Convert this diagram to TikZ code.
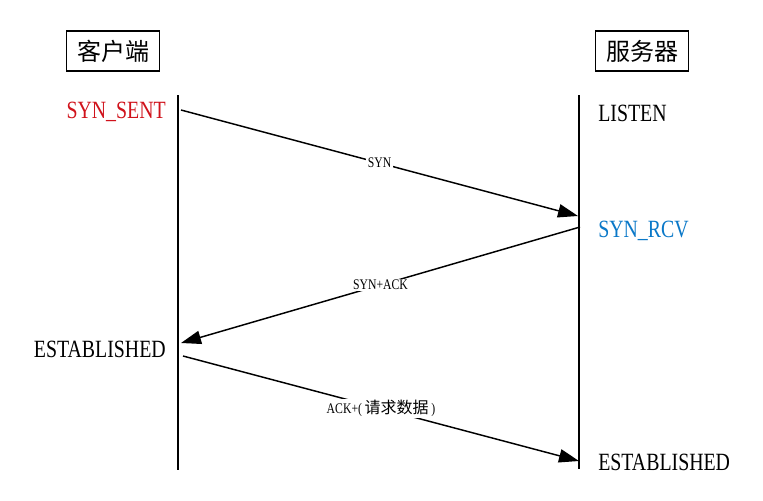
\documentclass[tikz,border=0pt]{standalone}
\usepackage{fontspec}
\setmainfont{Liberation Serif}[FakeStretch=0.8]
\newfontfamily\cjk{Noto Sans CJK SC}
\usetikzlibrary{arrows.meta}
\definecolor{synred}{HTML}{D0121B}
\definecolor{synblue}{HTML}{0A78C8}
\tikzset{
  party/.style={
    draw=black,
    line width=1.1pt,
    minimum width=70pt,
    minimum height=30pt,
    inner sep=2pt,
    font=\cjk\fontsize{18}{20}\selectfont
  },
  state/.style={
    inner sep=0pt,
    font=\fontsize{18.6}{21}\selectfont
  },
  lifeline/.style={line width=1.1pt, draw=black},
  msg/.style={-{Triangle[length=15pt, width=10pt]}, line width=1.1pt, draw=black},
  msglabel/.style={fill=white, inner sep=1pt, font=\fontsize{11}{12}\selectfont}
}
\begin{document}
\begin{tikzpicture}[x=0.75pt,y=-0.75pt]
\useasboundingbox (0,0) rectangle (763,500);

% parties
\node[party] (client) at (113,51) {客户端};
\node[party] (server) at (642,51) {服务器};

% lifelines
\coordinate (ctop) at (178,95);
\coordinate (cbot) at (178,470);
\coordinate (stop) at (579,95);
\coordinate (sbot) at (579,469);
\draw[lifeline] (ctop) -- (cbot);
\draw[lifeline] (stop) -- (sbot);

% client states
\node[state, text=synred, anchor=east] (csent) at (166,112) {SYN\_SENT};
\node[state, anchor=east] (cest) at (166,349) {ESTABLISHED};

% server states
\node[state, anchor=west] (slisten) at (598,113) {LISTEN};
\node[state, text=synblue, anchor=west] (srcv) at (598,231) {SYN\_RCV};
\node[state, anchor=west] (sest) at (598,462) {ESTABLISHED};

% messages
\coordinate (synA) at (181,110);
\coordinate (synB) at (578,216);
\coordinate (ackA) at (580,227);
\coordinate (ackB) at (181,343);
\coordinate (reqA) at (183,356);
\coordinate (reqB) at (579,461);

\draw[msg] (synA) -- node[msglabel] (synlbl) {SYN} (synB);
\draw[msg] (ackA) -- node[msglabel] (acklbl) {SYN+ACK} (ackB);
\draw[msg] (reqA) -- node[msglabel] (reqlbl) {ACK+({\cjk\fontsize{12}{12}\selectfont\,请求数据\,})} (reqB);

\end{tikzpicture}
\end{document}
